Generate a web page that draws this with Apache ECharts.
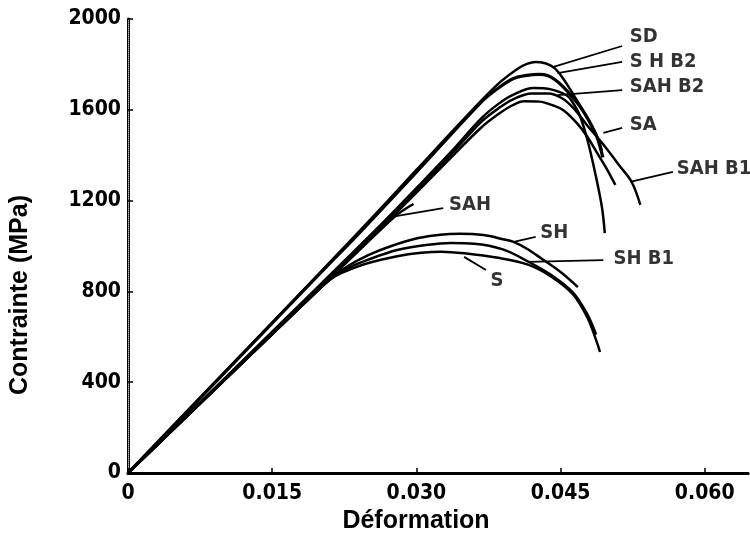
<!DOCTYPE html>
<html>
<head>
<meta charset="utf-8">
<script src="https://cdn.jsdelivr.net/npm/echarts@6/dist/echarts.min.js"></script>
<style>html,body{margin:0;padding:0;background:#fff}#c{width:750px;height:542px}</style>
</head>
<body>
<div id="c"></div>
<script>
// ---- data (strain, stress MPa) ----
var xTicks = [0, 0.015, 0.030, 0.045, 0.060];
var yTicks = [0, 400, 800, 1200, 1600, 2000];

var SD = [[0,0],[0.010,442],[0.020,884],[0.0243,1075],[0.030,1335],[0.0367,1638],[0.0388,1725],[0.0405,1780],[0.0415,1802],[0.0424,1811],[0.0434,1805],[0.0443,1786],[0.0451,1748],[0.0460,1690],[0.0471,1614],[0.0480,1550],[0.0488,1482],[0.0493,1420]];
var SHB2 = [[0,0],[0.010,440],[0.020,880],[0.0243,1068],[0.030,1325],[0.0367,1632],[0.0385,1695],[0.0401,1738],[0.0415,1752],[0.0428,1756],[0.0437,1750],[0.0445,1730],[0.0453,1700],[0.0462,1658],[0.0471,1610],[0.0480,1548],[0.0488,1478],[0.0494,1390]];
var SAHB2 = [[0,0],[0.010,415],[0.020,830],[0.0261,1085],[0.030,1255],[0.0335,1410],[0.0367,1560],[0.0385,1625],[0.0400,1665],[0.0422,1696],[0.0440,1690],[0.0457,1662],[0.0463,1630],[0.0470,1575],[0.0478,1467],[0.0486,1322],[0.0493,1172],[0.0496,1057]];
var SA = [[0,0],[0.010,410],[0.020,820],[0.0261,1070],[0.030,1235],[0.0335,1385],[0.0367,1520],[0.0385,1580],[0.0400,1620],[0.0412,1638],[0.0428,1636],[0.0443,1618],[0.0453,1598],[0.0467,1541],[0.0478,1480],[0.0488,1410],[0.0498,1340],[0.0507,1269]];
var SAHB1 = [[0,0],[0.010,412],[0.020,825],[0.0261,1078],[0.030,1245],[0.0335,1398],[0.0367,1545],[0.0385,1605],[0.0400,1645],[0.0420,1672],[0.0437,1672],[0.0452,1650],[0.0465,1600],[0.0478,1530],[0.0489,1475],[0.0499,1423],[0.0512,1350],[0.0524,1282],[0.0533,1181]];
var SAH = [[0,0],[0.010,407],[0.020,815],[0.0255,1040],[0.0277,1128],[0.0288,1162],[0.0297,1185]];
var SH = [[0,0],[0.010,408],[0.020,815],[0.0215,870],[0.023,915],[0.025,960],[0.0274,1000],[0.0302,1035],[0.0325,1050],[0.0345,1054],[0.037,1048],[0.039,1030],[0.0401,1018],[0.0415,988],[0.043,945],[0.045,885],[0.0468,819]];
var SHB1 = [[0,0],[0.010,408],[0.020,815],[0.0215,868],[0.023,905],[0.025,940],[0.028,982],[0.031,1004],[0.0336,1013],[0.036,1010],[0.039,985],[0.0416,932],[0.044,873],[0.0463,795],[0.0478,698],[0.0487,610]];
var S = [[0,0],[0.010,408],[0.020,815],[0.0215,866],[0.023,895],[0.025,925],[0.028,955],[0.0305,970],[0.0326,975],[0.035,968],[0.0385,948],[0.0416,918],[0.044,866],[0.0463,787],[0.0478,684],[0.0488,573],[0.0491,533]];

// curve labels and their anchor (strain, stress)
var labelNames = ['SD', 'S H B2', 'SAH B2', 'SA', 'SAH B1', 'SAH', 'SH', 'SH B1', 'S'];
var labelPos = [[0.0522,1921],[0.0522,1811],[0.0522,1700],[0.0522,1533],[0.0571,1339],[0.0334,1181],[0.0429,1057],[0.0505,943],[0.0377,846]];
// leader lines: [from, to]
var leaders = [
  [[0.05141,1881],[0.04427,1789]],
  [[0.05141,1811],[0.04469,1762]],
  [[0.05141,1687],[0.04469,1665]],
  [[0.05141,1520],[0.04945,1498]],
  [[0.05669,1326],[0.05224,1282]],
  [[0.03279,1167],[0.02741,1128]],
  [[0.04241,1040],[0.04014,1018]],
  [[0.04945,938],[0.04158,930]],
  [[0.03724,894],[0.03496,952]]
];
var curves = [SD, SHB2, SAHB2, SA, SAHB1, SAH, SH, SHB1, S];

var FONT = '"DejaVu Sans Condensed", "DejaVu Sans", sans-serif';

var chart = echarts.init(document.getElementById('c'), null, {renderer: 'canvas'});
var series = curves.map(function (d, i) {
  return {
    type: 'line', name: labelNames[i], data: d, showSymbol: false, smooth: 0.35,
    lineStyle: {color: '#000', width: (i === 1 ? 3.2 : 2.5)}, silent: true, z: 3
  };
});
series.push({
  type: 'lines', coordinateSystem: 'cartesian2d', silent: true, z: 3,
  lineStyle: {color: '#000', width: 1.8, opacity: 1},
  data: leaders.map(function (l) { return {coords: l}; })
});
series.push({
  type: 'scatter', symbolSize: 0, silent: true, z: 4,
  data: labelPos.map(function (p, i) { return {name: labelNames[i], value: p}; }),
  label: {show: true, position: 'right', distance: 0, formatter: '{b}', color: '#000',
    fontFamily: FONT, fontWeight: 'bold', fontSize: 20}
});

var fmtX = function (v) {
  var k = v / 0.015;
  if (Math.abs(k - Math.round(k)) > 1e-6) return '';
  return v === 0 ? '0' : v.toFixed(3);
};
var fmtY = function (v) { return String(Math.round(v)); };

chart.setOption({
  animation: false,
  backgroundColor: '#fff',
  grid: {left: 125, right: 2, top: 19, bottom: 69, show: false},
  xAxis: [{
    type: 'value', min: 0, max: 0.0645, interval: 0.015,
    name: 'Déformation', nameLocation: 'middle', nameGap: 35,
    nameTextStyle: {fontFamily: 'Liberation Sans', fontWeight: 'bold', fontSize: 25, color: '#000', padding: [0, 44, 0, 0]},
    axisLine: {lineStyle: {color: '#000', width: 3}},
    axisTick: {inside: true, length: 5, lineStyle: {color: '#000', width: 1.5}},
    axisLabel: {formatter: fmtX, color: '#000', fontFamily: FONT, fontWeight: 'bold', fontSize: 21, margin: 10, showMaxLabel: false},
    splitLine: {show: false}
  }, {
    type: 'value', position: 'top', min: 0, max: 0.0645,
    axisLine: {show: true, lineStyle: {color: '#000', width: 3}},
    axisTick: {show: false}, axisLabel: {show: false}, splitLine: {show: false}
  }],
  yAxis: [{
    type: 'value', min: 0, max: 2000, interval: 400,
    name: 'Contrainte (MPa)', nameLocation: 'middle', nameGap: 95,
    nameTextStyle: {fontFamily: 'Liberation Sans', fontWeight: 'bold', fontSize: 25, color: '#000', padding: [0, 98, 0, 0]},
    axisLine: {show: true, lineStyle: {color: '#000', width: 3}},
    axisTick: {show: true, inside: true, length: 5, lineStyle: {color: '#000', width: 1.5}},
    axisLabel: {formatter: fmtY, color: '#000', fontFamily: FONT, fontWeight: 'bold', fontSize: 21, margin: 7},
    splitLine: {show: false}
  }, {
    type: 'value', position: 'right', min: 0, max: 2000,
    axisLine: {show: true, lineStyle: {color: '#bbb', width: 1, type: 'dotted'}},
    axisTick: {show: false}, axisLabel: {show: false}, splitLine: {show: false}
  }],
  series: series
});
</script>
</body>
</html>
